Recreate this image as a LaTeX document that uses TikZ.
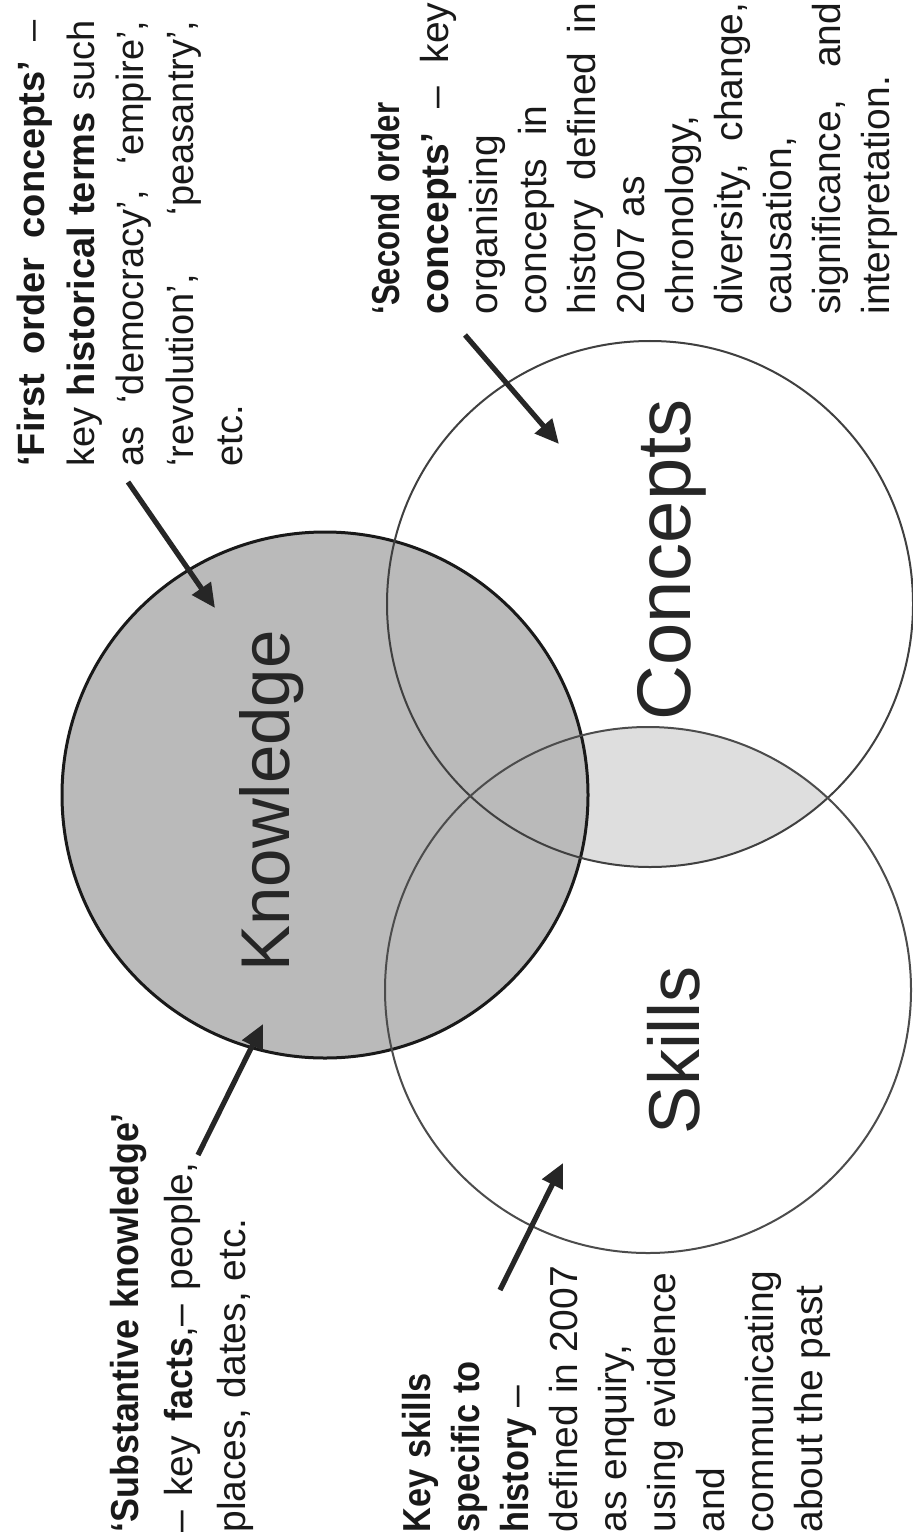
\documentclass[tikz,border=0pt]{standalone}
\usepackage{fontspec}
\setmainfont{Liberation Sans}
\usepackage{graphicx}
\usetikzlibrary{arrows.meta}
\newcommand\cw[2][0.88]{\scalebox{#1}[1]{\bfseries #2}}
\begin{document}
\begin{tikzpicture}[x=0.5pt,y=-0.5pt,
  ring/.style={circle,minimum size=263pt,inner sep=0pt},
  biglabel/.style={rotate=90,inner sep=0pt,text=black!85},
  anno/.style={rotate=90,anchor=north west,inner sep=0pt,align=left,text=black!90},
  pointer/.style={line width=2.6pt,black!85,-{Triangle[length=12pt,width=11pt]}}]
\useasboundingbox (0,0) rectangle (913,1540);
\fill[white] (0,0) rectangle (913,1540);
% light lens Concepts & Skills
\begin{scope}
  \clip (650,604) circle[radius=131.5pt];
  \fill[black!13] (648,990) circle[radius=131.5pt];
\end{scope}
\node[ring,fill=black!27,draw=black!90,line width=1.5pt] (K) at (325,795) {};
\node[ring,draw=black!75,line width=1pt] (C) at (650,604) {};
\node[ring,draw=black!70,line width=1pt] (S) at (648,990) {};
% big labels
\node[biglabel,font=\fontsize{34.5}{40}\selectfont] (kl) at (272,801) {Knowledge};
\node[biglabel,font=\fontsize{38}{42}\selectfont] (cl) at (672,560) {Concepts};
\node[biglabel,font=\fontsize{36}{40}\selectfont] (sl) at (674,1050) {Skills};
% annotations
\node[anno,font=\fontsize{19}{24.75}\selectfont] (fo) at (17,467)
 {\makebox[223pt][s]{\textbf{‘First order concepts’} –}\\
  \makebox[223pt][s]{key \textbf{historical terms} such}\\
  \makebox[223pt][s]{as ‘democracy’, ‘empire’,}\\
  \makebox[223pt][s]{‘revolution’, ‘peasantry’,}\\
  etc.};
\node[anno,font=\fontsize{19.5}{24.5}\selectfont] (so) at (371,315)
 {\cw[0.8]{‘Second} \cw[0.8]{order}\\
  \makebox[156pt][s]{\textbf{concepts’} – key}\\
  organising\\
  concepts\hspace{6pt} in\\
  \makebox[156pt][s]{history defined in}\\
  2007 as\\
  chronology,\\
  \makebox[156pt][s]{diversity, change,}\\
  causation,\\
  \makebox[156pt][s]{significance, and}\\
  interpretation.};
\node[anno,font=\fontsize{19.5}{26.75}\selectfont] (sk) at (110,1533)
 {\cw[0.92]{‘Substantive} \cw[0.92]{knowledge’}\\
  \makebox[185pt][s]{– key \cw[0.92]{facts},– people,}\\
  places, dates, etc.};
\node[anno,font=\fontsize{19.5}{24.5}\selectfont] (ks) at (402,1533)
 {\cw{Key} \cw{skills}\\ \cw{specific} \cw{to}\\ \cw{history} –\\ defined in 2007\\ as enquiry,\\ using evidence\\ and\\ communicating\\ about the past};
% arrows
\coordinate (foT) at (128,482);
\coordinate (foH) at (215,608);
\coordinate (soT) at (465,335);
\coordinate (soH) at (559,444);
\coordinate (skT) at (198,1155);
\coordinate (skH) at (263,1024);
\coordinate (ksT) at (500,1290);
\coordinate (ksH) at (563,1163);
\draw[pointer] (foT) -- (foH);
\draw[pointer] (soT) -- (soH);
\draw[pointer] (skT) -- (skH);
\draw[pointer] (ksT) -- (ksH);
\end{tikzpicture}
\end{document}
